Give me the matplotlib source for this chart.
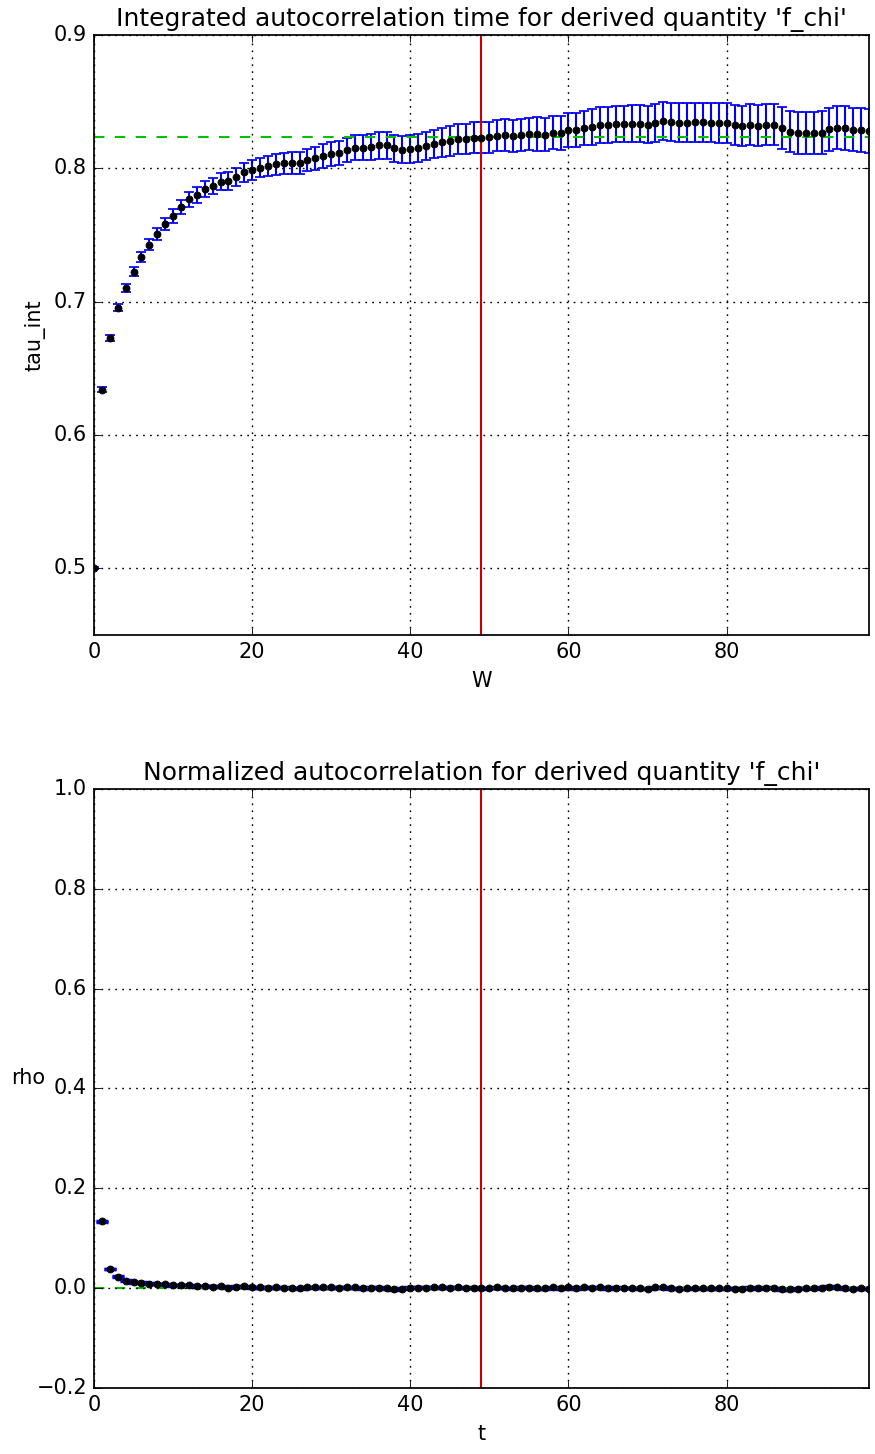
import numpy as np
import matplotlib
matplotlib.use("Agg")
import matplotlib.pyplot as plt

plt.style.use("classic")
plt.rcParams["figure.facecolor"] = "white"
plt.rcParams["savefig.facecolor"] = "white"
plt.rcParams["font.family"] = ["DejaVu Sans"]

# integrated autocorrelation time as a function of the summation window W
W = list(range(0, 99))
tau_int = [
    0.5000, 0.6340, 0.6725, 0.6955, 0.7105, 0.7225, 0.7337, 0.7425, 0.7507, 0.7582,
    0.7642, 0.7707, 0.7767, 0.7800, 0.7842, 0.7867, 0.7900, 0.7905, 0.7937, 0.7970,
    0.7987, 0.8005, 0.8017, 0.8030, 0.8037, 0.8040, 0.8040, 0.8062, 0.8075, 0.8092,
    0.8107, 0.8117, 0.8137, 0.8155, 0.8155, 0.8162, 0.8172, 0.8172, 0.8150, 0.8140,
    0.8147, 0.8155, 0.8165, 0.8182, 0.8195, 0.8205, 0.8220, 0.8222, 0.8230, 0.8230,
    0.8232, 0.8245, 0.8248, 0.8242, 0.8250, 0.8257, 0.8257, 0.8252, 0.8267, 0.8267,
    0.8287, 0.8287, 0.8302, 0.8310, 0.8325, 0.8325, 0.8330, 0.8332, 0.8335, 0.8335,
    0.8327, 0.8340, 0.8355, 0.8350, 0.8342, 0.8342, 0.8345, 0.8345, 0.8342, 0.8342,
    0.8337, 0.8325, 0.8317, 0.8327, 0.8320, 0.8325, 0.8327, 0.8302, 0.8275, 0.8265,
    0.8267, 0.8262, 0.8267, 0.8292, 0.8305, 0.8302, 0.8290, 0.8285, 0.8277,
]
tau_err = [
    0.0007, 0.0016, 0.0021, 0.0026, 0.0030, 0.0034, 0.0037, 0.0041, 0.0044, 0.0047,
    0.0050, 0.0052, 0.0055, 0.0057, 0.0060, 0.0062, 0.0064, 0.0066, 0.0068, 0.0070,
    0.0072, 0.0074, 0.0076, 0.0078, 0.0080, 0.0081, 0.0083, 0.0085, 0.0086, 0.0088,
    0.0090, 0.0091, 0.0093, 0.0094, 0.0096, 0.0097, 0.0099, 0.0100, 0.0101, 0.0102,
    0.0104, 0.0105, 0.0106, 0.0108, 0.0109, 0.0111, 0.0112, 0.0113, 0.0115, 0.0116,
    0.0117, 0.0118, 0.0120, 0.0121, 0.0122, 0.0123, 0.0124, 0.0125, 0.0126, 0.0128,
    0.0129, 0.0130, 0.0131, 0.0132, 0.0134, 0.0135, 0.0136, 0.0137, 0.0138, 0.0139,
    0.0140, 0.0141, 0.0142, 0.0143, 0.0144, 0.0145, 0.0146, 0.0147, 0.0148, 0.0149,
    0.0150, 0.0150, 0.0151, 0.0152, 0.0153, 0.0154, 0.0155, 0.0155, 0.0156, 0.0156,
    0.0157, 0.0158, 0.0159, 0.0160, 0.0161, 0.0162, 0.0163, 0.0164, 0.0165,
]
tau_estimate = 0.8235
window_choice = 49

# normalized autocorrelation function rho(t), t >= 1
t = list(range(1, 99))
rho = [
    0.1340, 0.0385, 0.0230, 0.0150, 0.0120, 0.0112, 0.0088, 0.0082, 0.0075,
    0.0060, 0.0065, 0.0060, 0.0033, 0.0042, 0.0025, 0.0033, 0.0005, 0.0032, 0.0033,
    0.0017, 0.0018, 0.0012, 0.0013, 0.0007, 0.0003, 0.0000, 0.0022, 0.0013, 0.0017,
    0.0015, 0.0010, 0.0020, 0.0018, 0.0000, 0.0007, 0.0010, 0.0000, -0.0022, -0.0010,
    0.0007, 0.0008, 0.0010, 0.0017, 0.0013, 0.0010, 0.0015, 0.0002, 0.0008, 0.0000,
    0.0002, 0.0013, 0.0003, -0.0006, 0.0008, 0.0007, 0.0000, -0.0005, 0.0015, 0.0000,
    0.0020, 0.0000, 0.0015, 0.0008, 0.0015, 0.0000, 0.0005, 0.0002, 0.0003, 0.0000,
    -0.0008, 0.0013, 0.0015, -0.0005, -0.0008, 0.0000, 0.0003, 0.0000, -0.0003, 0.0000,
    -0.0005, -0.0012, -0.0008, 0.0010, -0.0007, 0.0005, 0.0002, -0.0025, -0.0027, -0.0010,
    0.0002, -0.0005, 0.0005, 0.0025, 0.0013, -0.0003, -0.0012, -0.0005, -0.0008,
]
rho_err = 0.0008

green = "#00c000"
red = "#cc0000"

fig = plt.figure(figsize=(7.0, 11.632), dpi=125)
ax1 = fig.add_axes([0.1074, 0.5633, 0.8857, 0.4127])
ax2 = fig.add_axes([0.1074, 0.0454, 0.8857, 0.4120])

# top panel: tau_int(W)
ax1.errorbar(W, tau_int, yerr=tau_err, fmt="o", color="k", ecolor="b",
             markersize=4, capsize=3, elinewidth=1.2, capthick=1.0,
             markeredgecolor="k")
ax1.axhline(tau_estimate, color=green, linestyle="--", linewidth=1.2)
ax1.axvline(window_choice, color=red, linewidth=1.2)
ax1.set_xlim(0, 98)
ax1.set_ylim(0.45, 0.9)
ax1.set_xticks([0, 20, 40, 60, 80])
ax1.set_yticks([0.5, 0.6, 0.7, 0.8, 0.9])
ax1.grid(True, color="k", linestyle=":", linewidth=0.8)
ax1.set_title("Integrated autocorrelation time for derived quantity 'f_chi'")
ax1.set_xlabel("W")
ax1.set_ylabel("tau_int")

# bottom panel: rho(t)
ax2.errorbar(t, rho, yerr=rho_err, fmt="o", color="k", ecolor="b",
             markersize=4, capsize=3.5, elinewidth=1.2, capthick=2.0,
             markeredgecolor="k")
ax2.axhline(0.0, color=green, linestyle="--", linewidth=1.2)
ax2.axvline(window_choice, color=red, linewidth=1.2)
ax2.set_xlim(0, 98)
ax2.set_ylim(-0.2, 1.0)
ax2.set_xticks([0, 20, 40, 60, 80])
ax2.set_yticks([-0.2, 0.0, 0.2, 0.4, 0.6, 0.8, 1.0])
ax2.grid(True, color="k", linestyle=":", linewidth=0.8)
ax2.set_title("Normalized autocorrelation for derived quantity 'f_chi'")
ax2.set_xlabel("t")
ax2.set_ylabel("rho", rotation=0)

fig.savefig("out.png", dpi=125)
